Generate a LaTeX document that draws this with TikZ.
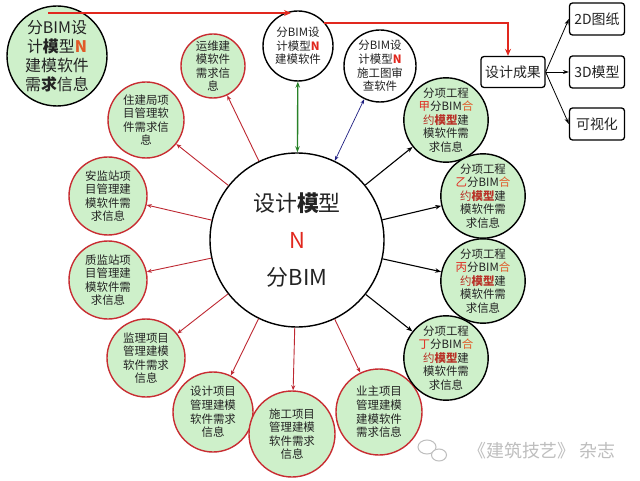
\documentclass[tikz,border=0pt]{standalone}
\usepackage{fontspec}
\setmainfont{Noto Sans CJK SC}
\usetikzlibrary{arrows.meta,calc}
\definecolor{gfill}{RGB}{206,240,202}
\definecolor{cred}{RGB}{200,45,50}
\definecolor{lred}{RGB}{190,40,50}
\definecolor{tred}{RGB}{225,40,30}
\definecolor{torange}{RGB}{225,90,40}
\definecolor{tbrown}{RGB}{185,50,40}
\definecolor{txt}{RGB}{35,35,35}
\definecolor{gline}{RGB}{40,130,40}
\definecolor{bline}{RGB}{30,30,130}
\definecolor{wm}{RGB}{190,190,190}
\begin{document}
\begin{tikzpicture}[x=1bp,y=-1bp,
  base/.style={circle, inner sep=0pt, align=center, text=txt, font=\fontsize{11.5}{13.6}\selectfont},
  gcirc/.style={base, draw=cred, line width=1.4bp, fill=gfill},
  bcirc/.style={base, draw=black, line width=1.4bp, fill=gfill},
  wcirc/.style={base, draw=black, line width=1.4bp, fill=white},
  rbox/.style={draw=black, line width=1.3bp, rounded corners=3bp, fill=white, inner sep=0pt, text=txt, font=\fontsize{14}{16}\selectfont},
  rarr/.style={draw=lred, line width=0.9bp, -{Stealth[length=5bp,width=4bp]}},
  karr/.style={draw=black, line width=1.1bp, -{Stealth[length=6bp,width=4.5bp]}},
  tarr/.style={draw=tred, line width=1.5bp, -{Stealth[length=7bp,width=6bp]}},
  sarr/.style={draw=black, line width=0.8bp, -{Stealth[length=6bp,width=4bp]}}
]
\useasboundingbox (0,0) rectangle (640,481);
\fill[white] (0,0) rectangle (640,481);

% centre
\node[wcirc, minimum size=174bp, font=\fontsize{22}{37}\selectfont] (cc) at (297,240)
  {设计\textbf{模}型\\{\color{tred}N}\\分BIM};

% top left
\node[bcirc, minimum size=100bp, font=\fontsize{16}{19}\selectfont] (lc) at (57,56)
  {分BIM设\\计\textbf{模}型{\color{torange}\textbf{N}}\\建模软件\\需\textbf{求}信息};

% top circles
\node[wcirc, minimum size=70bp] (tc) at (298,46)
  {分BIM设\\计模型{\color{tred}\textbf{N}}\\建模软件};
\node[wcirc, minimum size=72bp] (sc) at (380,66)
  {分BIM设\\计模型{\color{tred}\textbf{N}}\\施工图审\\查软件};

% left / bottom green circles
\node[gcirc, minimum size=64bp] (yw) at (213,66) {运维建\\模软件\\需求信\\息};
\node[gcirc, minimum size=76bp] (zj) at (146,120) {住建局项\\目管理软\\件需求信\\息};
\node[gcirc, minimum size=78bp] (aj) at (108,196) {安监站项\\目管理建\\模软件需\\求信息};
\node[gcirc, minimum size=78bp] (zl) at (108,280) {质监站项\\目管理建\\模软件需\\求信息};
\node[gcirc, minimum size=78bp] (jl) at (146,358) {监理项目\\管理建模\\软件需求\\信息};
\node[gcirc, minimum size=80bp] (sj) at (213,412) {设计项目\\管理建模\\软件需求\\信息};
\node[gcirc, minimum size=86bp] (sg) at (292,434) {施工项目\\管理建模\\软件需求\\信息};
\node[gcirc, minimum size=86bp] (yz) at (379,412) {业主项目\\管理建模\\建模软件\\需求信息};

% right circles
\node[bcirc, minimum size=82bp] (r1) at (446,120)
  {分项工程\\{\color{tred}甲}分BIM{\color{torange}合}\\{\color{tbrown}约\textbf{模型}}建\\模软件需\\求信息};
\node[bcirc, minimum size=82bp] (r2) at (483,196)
  {分项工程\\{\color{tred}乙}分BIM{\color{torange}合}\\{\color{tbrown}约\textbf{模型}}建\\模软件需\\求信息};
\node[bcirc, minimum size=82bp] (r3) at (483,281)
  {分项工程\\{\color{tred}丙}分BIM{\color{torange}合}\\{\color{tbrown}约\textbf{模型}}建\\模软件需\\求信息};
\node[bcirc, minimum size=82bp] (r4) at (446,358)
  {分项工程\\{\color{tred}丁}分BIM{\color{torange}合}\\{\color{tbrown}约\textbf{模型}}建\\模软件需\\求信息};

% boxes
\node[rbox, minimum width=64bp, minimum height=31bp] (cg) at (513,72) {设计成果};
\node[rbox, minimum width=55bp, minimum height=32bp] (b1) at (597,19) {2D图纸};
\node[rbox, minimum width=55bp, minimum height=32bp] (b2) at (597,72) {3D模型};
\node[rbox, minimum width=55bp, minimum height=32bp] (b3) at (597,124) {可视化};

% connectors from centre
\foreach \t in {yw,zj,aj,zl,jl,sj,sg,yz} \draw[rarr] (cc) -- (\t);
\foreach \t in {r1,r2,r3,r4} \draw[karr] (cc) -- (\t);
\draw[draw=gline, line width=1.4bp, {Stealth[length=6bp,width=4.5bp]}-{Stealth[length=6bp,width=4.5bp]}] (cc) -- (tc);
\draw[draw=bline, line width=0.7bp, {Stealth[length=5bp,width=3.5bp]}-{Stealth[length=5bp,width=3.5bp]}] (cc) -- (sc);

% top red connectors
\coordinate (lcs) at (48,13);
\coordinate (tce) at ($(tc.center)+(-7,-33)$);
\draw[tarr] (lcs) -- (tce);
\coordinate (tcs) at ($(tc.center)+(26,-23)$);
\coordinate (cgt) at ($(cg.north)+(-5,0)$);
\draw[tarr] (tcs) -| (cgt);

% outputs
\draw[sarr] (cg.east) -- (b1.west);
\draw[sarr] (cg.east) -- (b2.west);
\draw[sarr] (cg.east) -- (b3.west);

% watermark
\node[text=wm, font=\fontsize{18}{20}\selectfont, inner sep=0pt] (wmt) at (542,451) {《建筑技艺》 杂志};
\draw[wm, line width=1bp] (427,447) ellipse (9bp and 7bp);
\draw[wm, line width=1bp, fill=white] (439,455) ellipse (7.5bp and 6bp);
\end{tikzpicture}
\end{document}
